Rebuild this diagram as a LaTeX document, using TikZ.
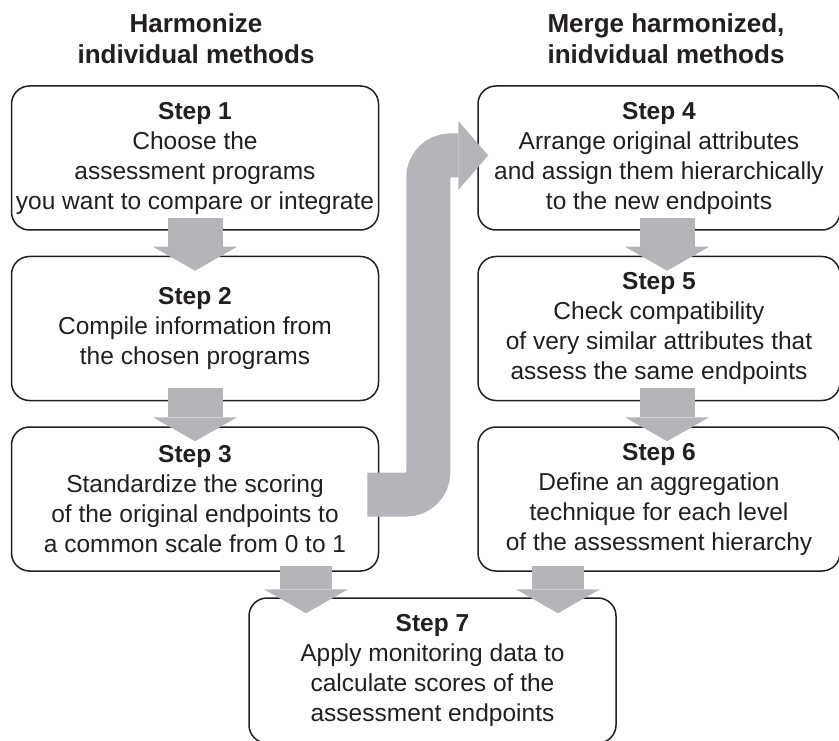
\documentclass[tikz,border=0pt]{standalone}
\usepackage{fontspec}
\setmainfont{Liberation Sans}
\usetikzlibrary{positioning,calc,arrows.meta}
\definecolor{flowgray}{RGB}{179,181,184}
\definecolor{ink}{RGB}{35,31,32}

\begin{document}
\begin{tikzpicture}[x=1pt,y=-1pt,
    stepbox/.style={draw=ink,text=ink,line width=1.5pt,rounded corners=18pt,minimum width=367pt,minimum height=144pt,inner sep=0pt,align=center,font=\fontsize{24.5}{30}\selectfont},
    headline/.style={text=ink,align=center,font=\fontsize{26}{31}\selectfont\bfseries},
    downarrow/.style={draw=flowgray,line width=55pt,-{Triangle[width=84pt,length=24pt,line width=0pt]}},
    bentarrow/.style={draw=flowgray,line width=44pt,rounded corners=22pt,-{Triangle[width=69pt,length=30pt,line width=0pt]}}]
    \useasboundingbox(0,0)rectangle(839,741);

    \node[headline](h1)at(196,39){Harmonize\\individual methods};
    \node[headline](h2)at(666,39){Merge harmonized,\\inidvidual methods};

    \node[stepbox](s1)at(195,158){\textbf{Step 1}\\Choose the\\assessment programs\\you want to compare or integrate};
    \node[stepbox,below=25pt of s1](s2){\textbf{Step 2}\\Compile information from\\the chosen programs};
    \node[stepbox,below=25pt of s2](s3){\textbf{Step 3}\\Standardize the scoring\\of the original endpoints to\\a common scale from 0 to 1};

    \node[stepbox,minimum width=362pt,right=98pt of s1](s4){\textbf{Step 4}\\Arrange original attributes\\and assign them hierarchically\\to the new endpoints};
    \node[stepbox,minimum width=362pt,below=25pt of s4](s5){\textbf{Step 5}\\Check compatibility\\of very similar attributes that\\assess the same endpoints};
    \node[stepbox,minimum width=362pt,below=25pt of s5](s6){\textbf{Step 6}\\Define an aggregation\\technique for each level\\of the assessment hierarchy};

    \node[stepbox,minimum height=145pt](s7)at(432.5,670.5){\textbf{Step 7}\\Apply monitoring data to\\calculate scores of the\\assessment endpoints};

    \draw[downarrow]([yshift=13pt]s1.south)--([yshift=-15pt]s2.north);
    \draw[downarrow]([yshift=13pt]s2.south)--([yshift=-15pt]s3.north);
    \draw[downarrow]([xshift=8pt,yshift=13pt]s4.south)--([xshift=8pt,yshift=-15pt]s5.north);
    \draw[downarrow]([xshift=8pt,yshift=13pt]s5.south)--([xshift=8pt,yshift=-15pt]s6.north);

    \coordinate(l7)at([xshift=111pt,yshift=6pt]s3.south);
    \coordinate(r7)at([xshift=-101pt,yshift=6pt]s6.south);
    \draw[downarrow,line width=52pt](l7)--([yshift=-16pt]l7|-s7.north);
    \draw[downarrow,line width=52pt](r7)--([yshift=-16pt]r7|-s7.north);

    \coordinate(tip4)at([xshift=11pt,yshift=2.5pt]s4.west);
    \coordinate(gap)at($(s3.east)!.5!(s6.west)$);
    \draw[bentarrow]([xshift=-12pt,yshift=4.5pt]s3.east)-|(gap|-tip4)--(tip4);
\end{tikzpicture}
\end{document}
